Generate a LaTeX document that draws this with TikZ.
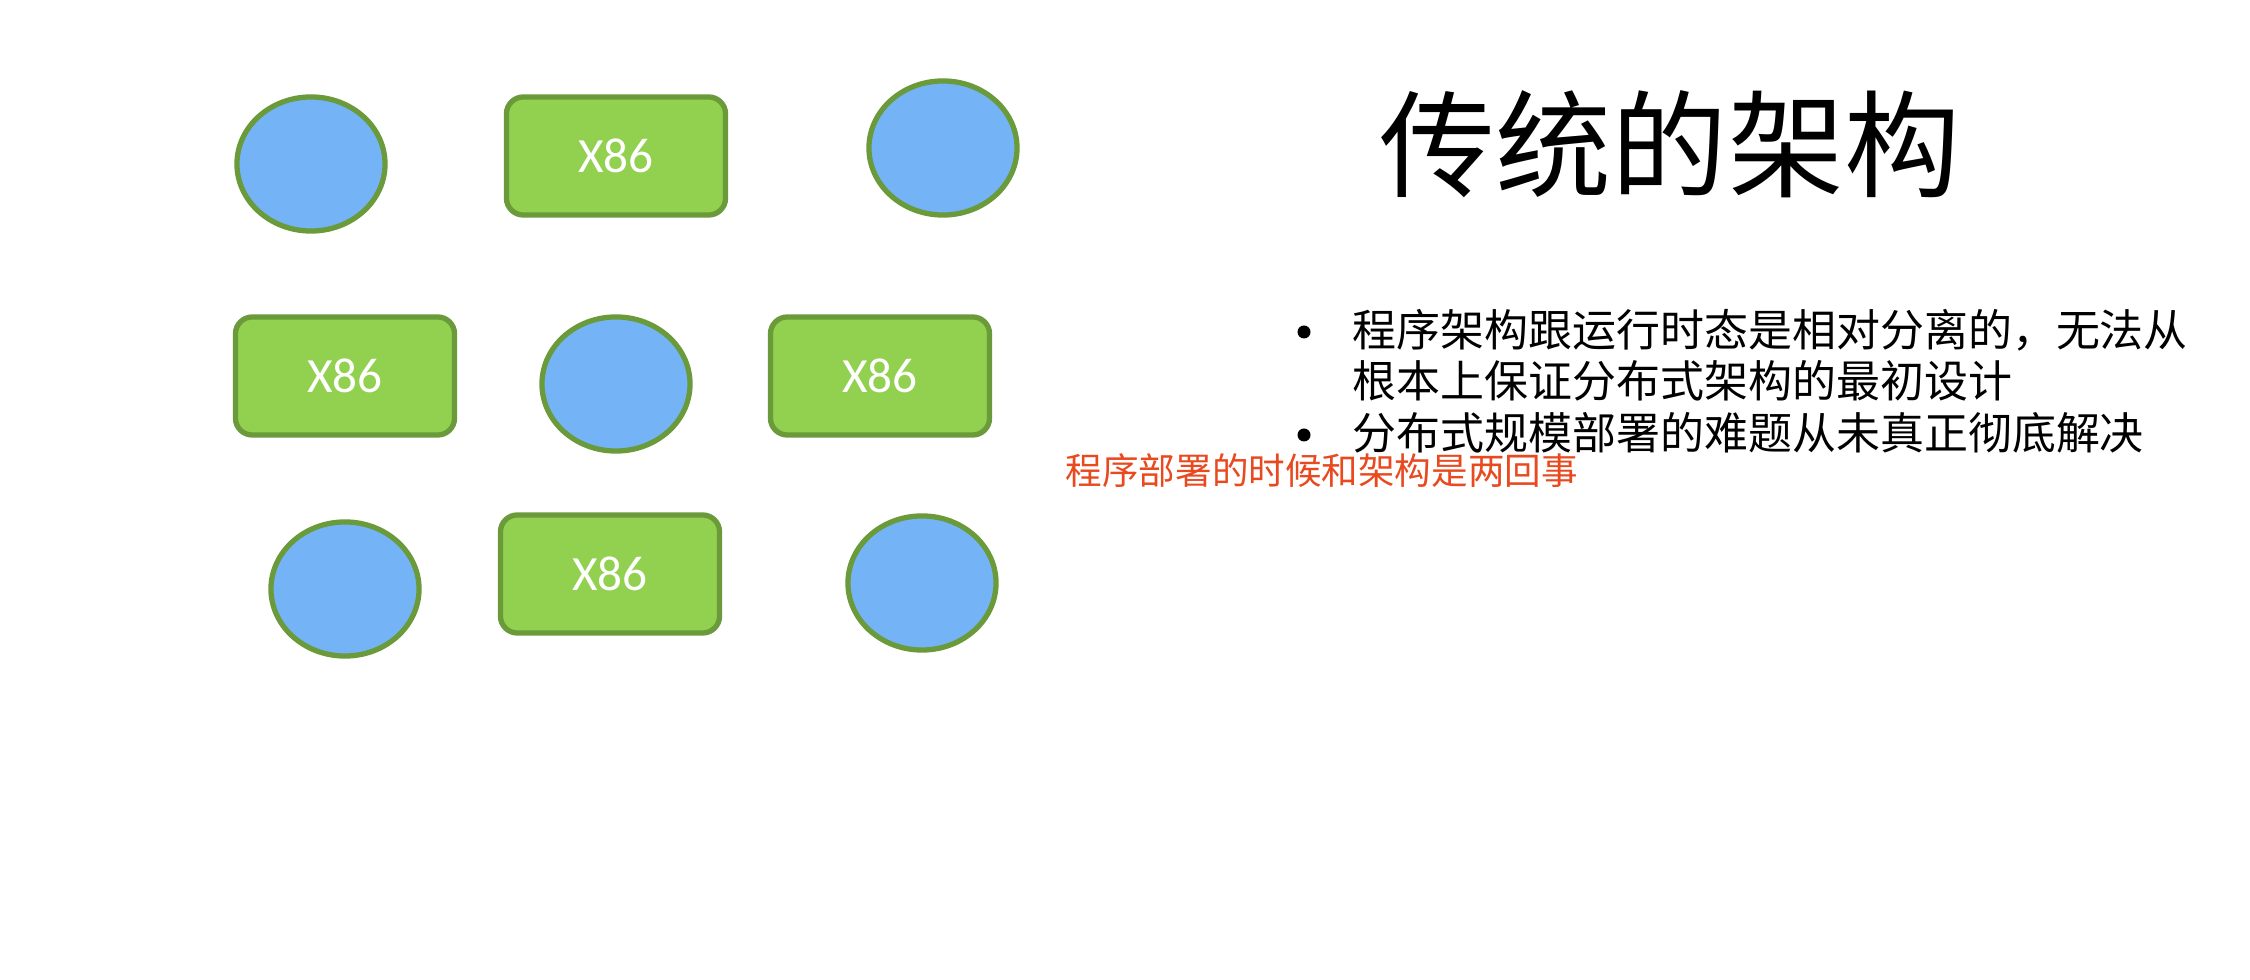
\documentclass[tikz,border=0pt]{standalone}
\usepackage{fontspec}
\setmainfont{Carlito}
\newfontfamily\cjk{Noto Sans CJK SC}
\usepackage{xcolor}
\usetikzlibrary{shapes.geometric}

\definecolor{hostgreen}{HTML}{92D050}
\definecolor{edgegreen}{HTML}{6A9A3A}
\definecolor{podblue}{HTML}{74B4F6}
\definecolor{notered}{HTML}{E8491F}

\begin{document}
\begin{tikzpicture}[
  x=0.01cm, y=-0.01cm,
  host/.style={draw=edgegreen, fill=hostgreen, rounded corners=4.8pt,
               line width=1.5pt, minimum width=2.19cm, minimum height=1.18cm,
               text=white, font=\fontsize{14}{16}\selectfont},
  pod/.style={ellipse, draw=edgegreen, fill=podblue, line width=1.5pt,
              minimum width=1.48cm, minimum height=1.34cm, inner sep=0pt},
  point/.style={anchor=west, inner sep=0pt, font=\cjk\fontsize{12.5}{14}\selectfont},
  dot/.style={circle, fill=black, inner sep=0pt, minimum size=0.13cm}
]
\useasboundingbox (0,0) rectangle (2250,980);

% nodes of the old layout
\node[pod]  (podA) at (311,164) {};
\node[host] (hostA) at (616,156) {X86};
\node[pod]  (podB) at (943,148) {};
\node[host] (hostB) at (345,376) {X86};
\node[pod]  (podC) at (616,384) {};
\node[host] (hostC) at (880,376) {X86};
\node[pod]  (podD) at (345,589) {};
\node[host] (hostD) at (610,574) {X86};
\node[pod]  (podE) at (922,583) {};

% title and points
\node[inner sep=0pt, font=\cjk\fontsize{33}{36}\selectfont] (title) at (1670,144) {传统的架构};

\node[dot] (dot1) at (1304,332) {};
\node[point] (line1) at (1352,330) {程序架构跟运行时态是相对分离的，无法从};
\node[point] (line2) at (1352,381) {根本上保证分布式架构的最初设计};
\node[dot] (dot2) at (1304,435) {};
\node[point] (line3) at (1352,433) {分布式规模部署的难题从未真正彻底解决};

\node[anchor=west, inner sep=0pt, text=notered, font=\cjk\fontsize{10.4}{12}\selectfont]
  (note) at (1065,471) {程序部署的时候和架构是两回事};
\end{tikzpicture}
\end{document}
